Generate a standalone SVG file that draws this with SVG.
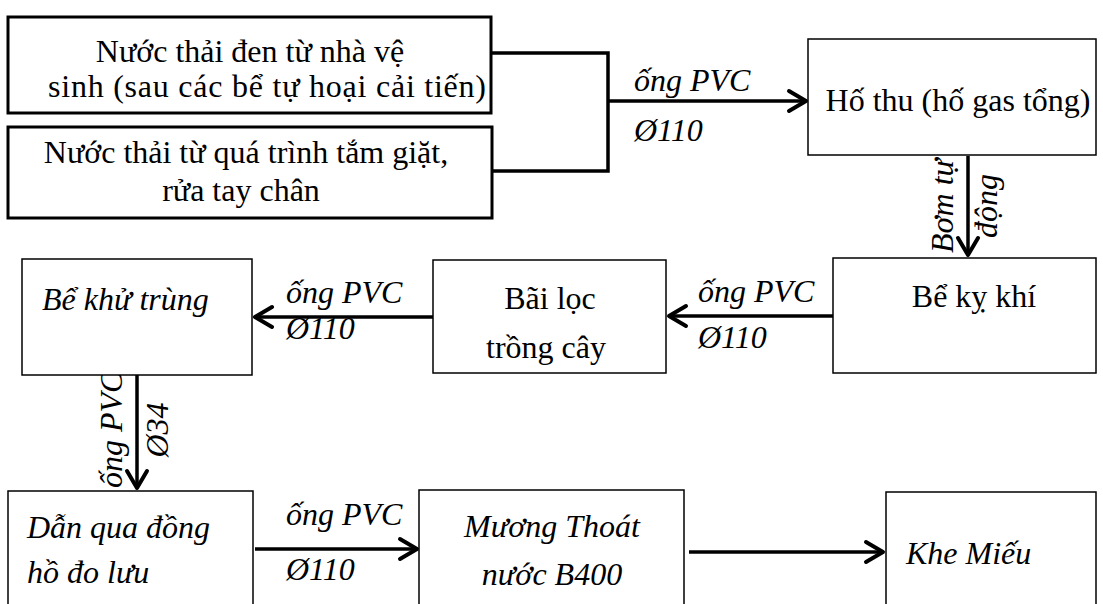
<svg xmlns="http://www.w3.org/2000/svg" width="1103" height="604" viewBox="0 0 1103 604">
<style>
text{font-family:"Liberation Serif",serif;font-size:32px;fill:#000}
.it{font-style:italic}
.c{text-anchor:middle}
.box{fill:#fff;stroke:#000;stroke-width:1.5}
.thick{fill:#fff;stroke:#000;stroke-width:3}
.ln{fill:none;stroke:#000;stroke-width:3.5}
.ar{fill:none;stroke:#000;stroke-width:3.5;marker-end:url(#ah)}
</style>
<defs>
<marker id="ah" markerUnits="userSpaceOnUse" viewBox="-22 -13 26 26" refX="0" refY="0" markerWidth="26" markerHeight="26" orient="auto">
<path d="M-17,-10 L0,0 L-17,10" fill="none" stroke="#000" stroke-width="4" stroke-linejoin="round" stroke-linecap="round"/>
</marker>
</defs>
<rect width="1103" height="604" fill="#fff"/>
<g id="connectors">
<polyline class="ln" points="491,53 608,53 608,171 492,171"/>
<line class="ar" x1="608" y1="101" x2="806" y2="101"/>
<text class="it" x="634" y="91">ống PVC</text>
<text class="it" x="634" y="141">Ø110</text>
<line class="ar" x1="968" y1="156" x2="968" y2="255"/>
<text class="it c" transform="translate(953,206) rotate(-90)">Bơm tự</text>
<text class="it c" transform="translate(997,206) rotate(-90)">động</text>
<line class="ar" x1="833" y1="316" x2="669" y2="316"/>
<text class="it" x="698" y="302">ống PVC</text>
<text class="it" x="698" y="348">Ø110</text>
<line class="ar" x1="433" y1="317" x2="255" y2="317"/>
<text class="it" x="286" y="303">ống PVC</text>
<text class="it" x="286" y="339">Ø110</text>
<line class="ar" x1="137" y1="375" x2="137" y2="488"/>
<text class="it" transform="translate(122,488) rotate(-90)">ống PVC</text>
<text class="it c" transform="translate(168,430) rotate(-90)">Ø34</text>
<line class="ar" x1="255" y1="549" x2="417" y2="549"/>
<text class="it" x="286" y="525">ống PVC</text>
<text class="it" x="286" y="580">Ø110</text>
<line class="ar" x1="689" y1="552" x2="883" y2="552"/>
</g>
<g id="n1"><rect class="thick" x="8" y="17" width="483" height="96"/>
<text class="c" x="250" y="62">Nước thải đen từ nhà vệ</text>
<text x="48" y="97" textLength="438" lengthAdjust="spacing">sinh (sau các bể tự hoại cải tiến)</text></g>
<g id="n2"><rect class="thick" x="8" y="127" width="484" height="91"/>
<text class="c" x="246" y="163">Nước thải từ quá trình tắm giặt,</text>
<text class="c" x="241" y="201">rửa tay chân</text></g>
<g id="n3"><rect class="box" x="808" y="39" width="288" height="116"/>
<text class="c" x="958" y="111">Hố thu (hố gas tổng)</text></g>
<g id="n4"><rect class="box" x="833" y="258" width="263" height="115"/>
<text class="c" x="974" y="307">Bể kỵ khí</text></g>
<g id="n5"><rect class="box" x="433" y="260" width="233" height="113"/>
<text class="c" x="550" y="309">Bãi lọc</text>
<text class="c" x="546" y="358">trồng cây</text></g>
<g id="n6"><rect class="box" x="22" y="259" width="230" height="116"/>
<text class="it" x="42" y="310">Bể khử trùng</text></g>
<g id="n7"><rect class="box" x="8" y="491" width="245" height="130"/>
<text class="it" x="27" y="538">Dẫn qua đồng</text>
<text class="it" x="27" y="583">hồ đo lưu</text></g>
<g id="n8"><rect class="box" x="419" y="490" width="265" height="130"/>
<text class="it c" x="552" y="537">Mương Thoát</text>
<text class="it c" x="552" y="585">nước B400</text></g>
<g id="n9"><rect class="box" x="886" y="492" width="210" height="130"/>
<text class="it" x="906" y="564">Khe Miếu</text></g>
</svg>
